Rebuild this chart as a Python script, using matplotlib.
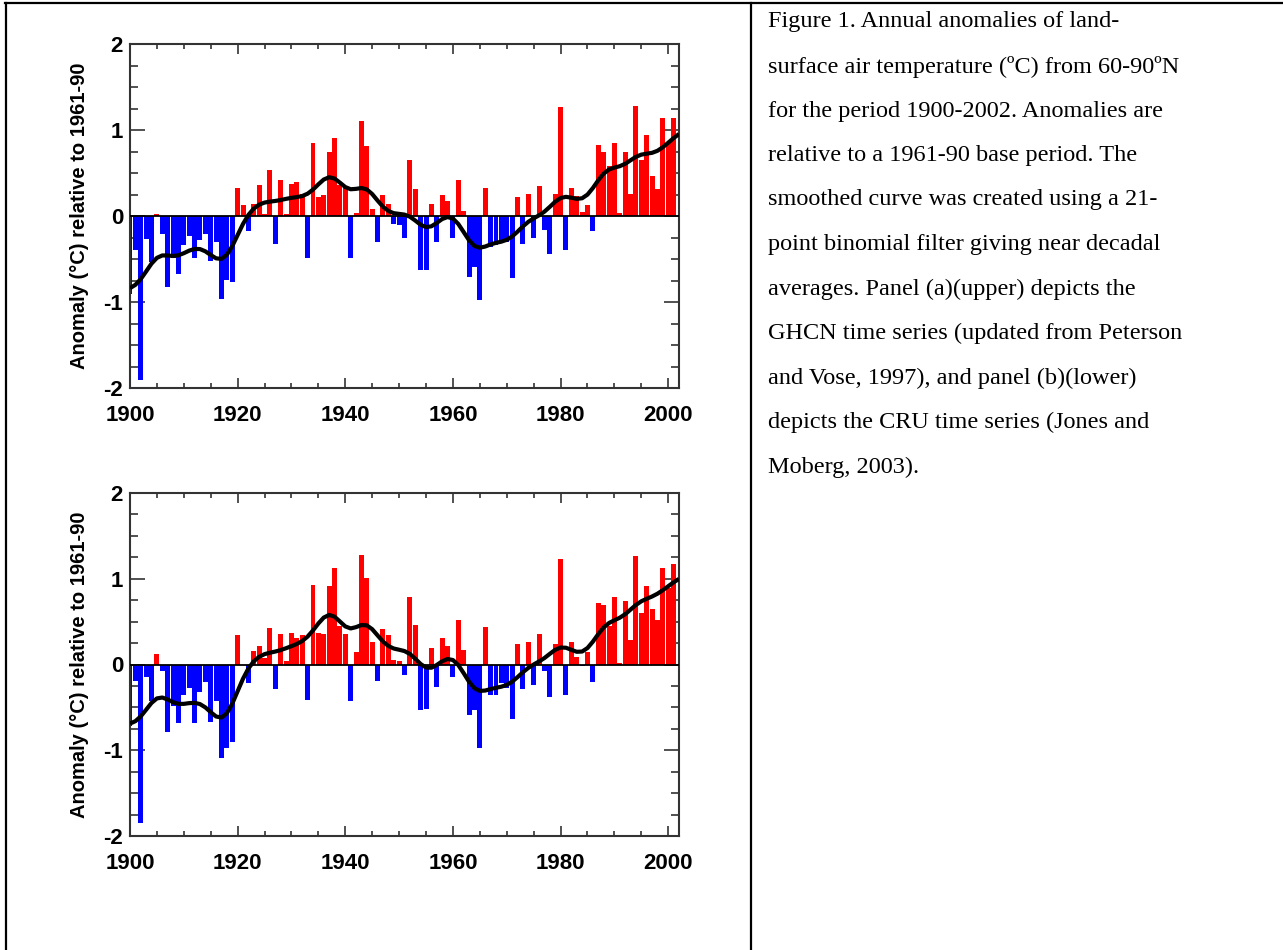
import math
import numpy as np
import matplotlib.pyplot as plt
from matplotlib.lines import Line2D
from matplotlib.ticker import MultipleLocator

# -----------------------------
# DATA
# -----------------------------
years = np.arange(1900, 2002)

ghcn = [-0.91, -0.39, -1.91, -0.27, -0.53, 0.02, -0.21, -0.83, -0.49, -0.67,
        -0.34, -0.23, -0.49, -0.28, -0.21, -0.52, -0.30, -0.96, -0.74, -0.77,
        0.32, 0.13, -0.17, 0.14, 0.36, 0.02, 0.53, -0.32, 0.42, 0.02,
        0.37, 0.39, 0.26, -0.49, 0.85, 0.22, 0.25, 0.74, 0.91, 0.36,
        0.35, -0.49, 0.03, 1.11, 0.81, 0.08, -0.30, 0.24, 0.14, -0.09,
        -0.11, -0.25, 0.65, 0.31, -0.63, -0.63, 0.14, -0.30, 0.24, 0.17,
        -0.25, 0.42, 0.06, -0.71, -0.59, -0.98, 0.33, -0.36, -0.34, -0.28,
        -0.30, -0.72, 0.22, -0.33, 0.26, -0.25, 0.35, -0.16, -0.44, 0.26,
        1.27, -0.39, 0.33, 0.23, 0.05, 0.13, -0.17, 0.82, 0.74, 0.58,
        0.85, 0.03, 0.74, 0.26, 1.28, 0.65, 0.94, 0.47, 0.31, 1.14,
        0.85, 1.14]

cru = [-0.72, -0.19, -1.85, -0.14, -0.43, 0.12, -0.07, -0.79, -0.48, -0.68,
       -0.35, -0.27, -0.68, -0.32, -0.20, -0.67, -0.42, -1.09, -0.97, -0.90,
       0.34, 0.00, -0.21, 0.16, 0.22, 0.07, 0.43, -0.28, 0.35, 0.04,
       0.37, 0.31, 0.34, -0.41, 0.93, 0.37, 0.36, 0.92, 1.12, 0.45,
       0.36, -0.43, 0.14, 1.28, 1.01, 0.26, -0.19, 0.41, 0.34, 0.05,
       0.04, -0.12, 0.79, 0.46, -0.53, -0.52, 0.19, -0.26, 0.31, 0.22,
       -0.15, 0.52, 0.17, -0.59, -0.53, -0.97, 0.44, -0.35, -0.35, -0.21,
       -0.27, -0.64, 0.24, -0.29, 0.26, -0.24, 0.36, -0.07, -0.38, 0.24,
       1.23, -0.35, 0.26, 0.09, -0.02, 0.14, -0.20, 0.72, 0.69, 0.45,
       0.79, 0.02, 0.74, 0.29, 1.26, 0.60, 0.92, 0.65, 0.52, 1.12,
       0.89, 1.17]

caption = [
    "Figure 1. Annual anomalies of land-",
    "surface air temperature (\u00baC) from 60-90\u00baN",
    "for the period 1900-2002. Anomalies are",
    "relative to a 1961-90 base period. The",
    "smoothed curve was created using a 21-",
    "point binomial filter giving near decadal",
    "averages. Panel (a)(upper) depicts the",
    "GHCN time series (updated from Peterson",
    "and Vose, 1997), and panel (b)(lower)",
    "depicts the CRU time series (Jones and",
    "Moberg, 2003).",
]

ylabel = "Anomaly (\u00b0C) relative to 1961-90"


# -----------------------------
# 21-point binomial filter (weights renormalised at the ends)
# -----------------------------
def binomial_smooth(yrs, vals, out_years, n=21):
    half = n // 2
    w = np.array([math.comb(n - 1, k) for k in range(n)], dtype=float)
    lookup = dict(zip(yrs, vals))
    out = []
    for t in out_years:
        s, ws = 0.0, 0.0
        for k in range(-half, half + 1):
            if t + k in lookup:
                s += w[k + half] * lookup[t + k]
                ws += w[k + half]
        out.append(s / ws)
    return np.array(out)


smooth_years = np.arange(1900, 2003)

W, H = 1283, 950
fig = plt.figure(figsize=(W / 100, H / 100), dpi=100)
fig.patch.set_facecolor("white")


def draw_panel(rect, vals):
    ax = fig.add_axes(rect)
    vals = np.array(vals)
    colors = np.where(vals >= 0, "#ff0000", "#0000ff")
    ax.bar(years, vals, width=0.92, color=colors, edgecolor="none", zorder=2)
    ax.axhline(0, color="black", lw=1.3, zorder=3)
    sm = binomial_smooth(list(years), list(vals), smooth_years)
    ax.plot(smooth_years, sm, color="black", lw=3.0, zorder=4,
            solid_capstyle="butt")

    ax.set_xlim(1900, 2002)
    ax.set_ylim(-2, 2)
    ax.set_xticks([1900, 1920, 1940, 1960, 1980, 2000])
    ax.xaxis.set_minor_locator(MultipleLocator(5))
    ax.set_yticks([-2, -1, 0, 1, 2])
    ax.set_yticklabels(["-2", "-1", "0", "1", "2"])
    ax.yaxis.set_minor_locator(MultipleLocator(0.25))
    ax.tick_params(which="both", direction="in", top=True, right=True,
                   color="#333333", width=1.2)
    ax.tick_params(axis="x", which="major", length=7, pad=12)
    ax.tick_params(axis="x", which="minor", length=3.5)
    ax.tick_params(axis="y", which="major", length=11, pad=5)
    ax.tick_params(axis="y", which="minor", length=6)
    for lab in ax.get_xticklabels() + ax.get_yticklabels():
        lab.set_fontfamily("Liberation Sans")
        lab.set_fontweight("bold")
        lab.set_fontsize(16)
    for sp in ax.spines.values():
        sp.set_color("#333333")
        sp.set_linewidth(1.5)
    ax.set_ylabel(ylabel, fontfamily="Liberation Sans", fontweight="bold",
                  fontsize=14.5, labelpad=10)
    return ax


# panel (a) upper, panel (b) lower
draw_panel([130 / W, 1 - 388 / H, 549 / W, 344 / H], ghcn)
draw_panel([130 / W, 1 - 836 / H, 549 / W, 343 / H], cru)

# table borders
fig.add_artist(Line2D([5 / W, 1.0], [1 - 3 / H, 1 - 3 / H],
                      transform=fig.transFigure, color="black", lw=1.6))
fig.add_artist(Line2D([6 / W, 6 / W], [0, 1 - 3 / H],
                      transform=fig.transFigure, color="black", lw=1.6))
fig.add_artist(Line2D([751 / W, 751 / W], [0, 1 - 3 / H],
                      transform=fig.transFigure, color="black", lw=1.6))

# caption
line_gap = 44.5
for i, line in enumerate(caption):
    y = 22 + i * line_gap
    fig.text(768 / W, 1 - y / H, line, fontfamily="Liberation Serif",
             fontsize=17.5, ha="left", va="center", color="black")

fig.savefig("out.png", dpi=100)
